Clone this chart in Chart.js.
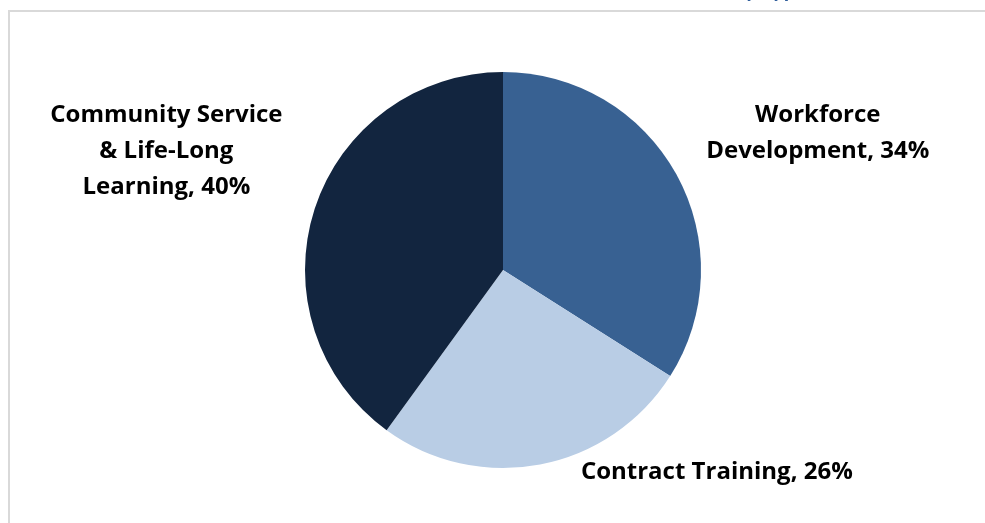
<!DOCTYPE html>
<html>
<head>
<meta charset="utf-8">
<script src="https://cdn.jsdelivr.net/npm/chart.js@4.4.1/dist/chart.umd.min.js"></script>
<style>
  html, body { margin: 0; padding: 0; background: #ffffff; overflow: hidden; }
  #wrap { position: relative; width: 985px; height: 523px; }
  #title {
    position: absolute; left: 0; right: 0; top: -25px;
    text-align: center; padding-left: 340px;
    font: bold 22px "Lato", "Liberation Sans", sans-serif; color: #2f5d9b;
    white-space: nowrap;
  }
  canvas { position: absolute; left: 0; top: 0; }
</style>
</head>
<body>
<div id="wrap">
  <canvas id="chart" width="985" height="523"></canvas>
  <div id="title">Noncredit Enrollment by Type</div>
</div>
<script>
// Enrollment share by program type
const categories = ['Workforce Development', 'Contract Training', 'Community Service & Life-Long Learning'];
const shares = [34, 26, 40];
// Label lines as they are written beside each slice
const labelLines = [
  ['Workforce', 'Development, 34%'],
  ['Contract Training, 26%'],
  ['Community Service', '& Life-Long', 'Learning, 40%']
];
const sliceColors = ['#386192', '#b9cde5', '#12253f'];

// Label placement relative to pie centre, in units of the radius
const labelOffsets = [[1.59, -0.69], [1.08, 1.02], [-1.70, -0.60]];

const framePlugin = {
  id: 'frame',
  beforeDraw(chart) {
    const ctx = chart.ctx;
    ctx.save();
    ctx.strokeStyle = '#d9d9d9';
    ctx.lineWidth = 2;
    ctx.beginPath();
    ctx.moveTo(9, chart.height);
    ctx.lineTo(9, 11);
    ctx.lineTo(chart.width, 11);
    ctx.stroke();
    ctx.restore();
  }
};

const sliceLabels = {
  id: 'sliceLabels',
  afterDatasetsDraw(chart) {
    const ctx = chart.ctx;
    const meta = chart.getDatasetMeta(0);
    ctx.save();
    ctx.font = 'bold 24px "Open Sans", "Liberation Sans", sans-serif';
    ctx.fillStyle = '#000000';
    ctx.textAlign = 'center';
    ctx.textBaseline = 'middle';
    const lineH = 36;
    meta.data.forEach((arc, i) => {
      const r = arc.outerRadius;
      const cx = arc.x + labelOffsets[i][0] * r;
      const cy = arc.y + labelOffsets[i][1] * r;
      const lines = labelLines[i];
      const top = cy - (lines.length - 1) * lineH / 2;
      lines.forEach((t, k) => ctx.fillText(t, cx, top + k * lineH));
    });
    ctx.restore();
  }
};

new Chart(document.getElementById('chart'), {
  type: 'pie',
  data: {
    labels: categories,
    datasets: [{
      data: shares,
      backgroundColor: sliceColors,
      borderWidth: 0
    }]
  },
  options: {
    responsive: false,
    animation: false,
    layout: { padding: { top: 72, bottom: 55, left: 21, right: 0 } },
    plugins: {
      legend: { display: false },
      tooltip: { enabled: false },
      title: { display: false }
    }
  },
  plugins: [framePlugin, sliceLabels]
});
</script>
</body>
</html>
